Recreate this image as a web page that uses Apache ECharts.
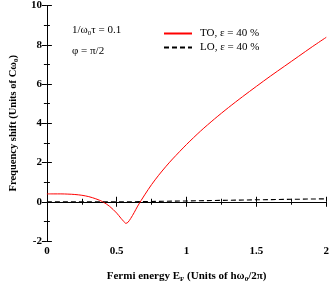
<!DOCTYPE html>
<html><head><meta charset="utf-8">
<script src="https://cdn.jsdelivr.net/npm/echarts@6/dist/echarts.min.js"></script>
<style>html,body{margin:0;padding:0;background:#fff}#c{width:332px;height:288px}</style>
</head><body><div id="c"></div>
<script>
const toE   = [0, 0.05, 0.1, 0.15, 0.2, 0.25, 0.3, 0.35, 0.4, 0.45, 0.5, 0.53, 0.55, 0.565, 0.58, 0.6, 0.625, 0.65, 0.7, 0.75, 0.8, 0.85, 0.9, 1.0, 1.1, 1.2, 1.3, 1.4, 1.5, 1.6, 1.7, 1.8, 1.9, 2.0];
const toVal = [0.40, 0.40, 0.40, 0.39, 0.37, 0.33, 0.26, 0.15, 0.0, -0.24, -0.58, -0.84, -1.0, -1.1, -1.05, -0.85, -0.55, -0.22, 0.35, 0.88, 1.35, 1.78, 2.18, 2.92, 3.6, 4.22, 4.8, 5.35, 5.88, 6.4, 6.9, 7.4, 7.9, 8.38];
const loE   = [0, 0.6, 1.0, 1.5, 2.0];
const loVal = [0, 0, 0.04, 0.1, 0.15];
const xTicks = [0, 0.5, 1, 1.5, 2];
const yTicks = [-2, 0, 2, 4, 6, 8, 10];
const seriesNames = ['TO, ε = 40 %', 'LO, ε = 40 %'];
const seriesColors = ['#ff0000', '#000000'];

const serif = '"Liberation Serif", "DejaVu Serif", serif';
const chart = echarts.init(document.getElementById('c'));
const zip = (a, b) => a.map((v, i) => [v, b[i]]);
const axCommon = {
  axisLine: { lineStyle: { color: '#000', width: 1 } },
  axisTick: { inside: true, length: 5, lineStyle: { color: '#000' } },
  minorTick: { show: true, splitNumber: 2, length: 3, lineStyle: { color: '#000' } },
  splitLine: { show: false }
};
chart.setOption({
  animation: false,
  grid: { left: 33, right: 3, top: 5, bottom: 39.5 },
  xAxis: [
    Object.assign({}, axCommon, {
      type: 'value', min: 0, max: 2, interval: 0.5, position: 'bottom',
      axisLabel: { color: '#000', fontFamily: serif, fontWeight: 'bold', fontSize: 11, margin: 5,
        formatter: v => xTicks.includes(v) ? String(v) : '' },
      name: '{b|Fermi energy E}{bs|F}{b| (Units of h\u03c9}{bs|0}{b|/2\u03c0)}',
      nameLocation: 'middle', nameGap: 29,
      nameTextStyle: { rich: {
        b: { fontFamily: serif, fontWeight: 'bold', fontSize: 11, color: '#000' },
        bs: { fontFamily: serif, fontWeight: 'bold', fontSize: 7, color: '#000', padding: [6, 0, 0, 0] }
      } }
    }),
    Object.assign({}, axCommon, {
      type: 'value', min: 0, max: 2, interval: 0.5, position: 'top',
      axisLabel: { show: false }
    })
  ],
  yAxis: [
    Object.assign({}, axCommon, {
      type: 'value', min: -2, max: 10, interval: 2, position: 'left',
      axisLabel: { color: '#000', fontFamily: serif, fontWeight: 'bold', fontSize: 11, margin: 5,
        formatter: v => yTicks.includes(v) ? String(v) : '' },
      name: '{b|Frequency shift (Units of C\u03c9}{bs|0}{b|)}',
      nameLocation: 'middle', nameGap: 24, nameRotate: 90,
      nameTextStyle: { rich: {
        b: { fontFamily: serif, fontWeight: 'bold', fontSize: 10.5, color: '#000' },
        bs: { fontFamily: serif, fontWeight: 'bold', fontSize: 7, color: '#000', padding: [6, 0, 0, 0] }
      } }
    }),
    Object.assign({}, axCommon, {
      type: 'value', min: -2, max: 10, interval: 2, position: 'right',
      axisLabel: { show: false }
    })
  ],
  legend: {
    orient: 'vertical', left: 158, top: 23, itemWidth: 28, itemHeight: 10, itemGap: 3,
    itemStyle: { opacity: 0 },
    textStyle: { fontFamily: serif, fontSize: 11, color: '#000', padding: [0, 0, 0, 3] },
    data: seriesNames
  },
  graphic: [
    { type: 'text', left: 72, top: 25, style: {
      text: '{r|1/\u03c9}{s|0}{r|\u03c4 = 0.1}',
      rich: { r: { fontFamily: serif, fontSize: 11, fill: '#000' },
              s: { fontFamily: serif, fontSize: 7, fill: '#000', padding: [6, 0, 0, 0] } } } },
    { type: 'text', left: 72, top: 46, style: {
      text: '\u03c6 = \u03c0/2', font: '11px ' + serif, fill: '#000' } }
  ],
  series: [
    { name: seriesNames[0], type: 'line', data: zip(toE, toVal), smooth: 0.3, symbol: 'none',
      lineStyle: { color: seriesColors[0], width: 1 }, itemStyle: { color: seriesColors[0] } },
    { name: seriesNames[1], type: 'line', data: zip(loE, loVal), symbol: 'none',
      lineStyle: { color: seriesColors[1], width: 1.1, type: [5, 3] }, itemStyle: { color: seriesColors[1] } }
  ]
});
</script></body></html>
